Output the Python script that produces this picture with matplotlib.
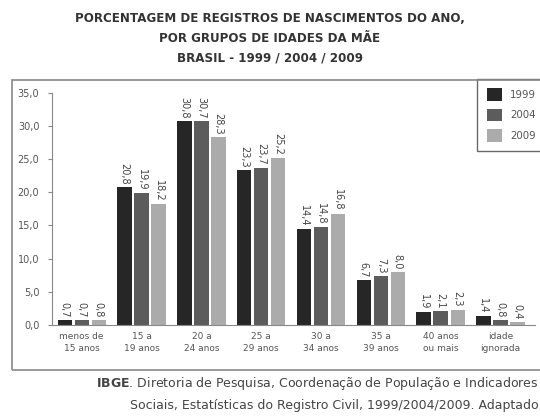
import matplotlib
matplotlib.use('Agg')
import matplotlib.pyplot as plt
from matplotlib.patches import Rectangle
import numpy as np

# Data
categories = ['menos de\n15 anos', '15 a\n19 anos', '20 a\n24 anos', '25 a\n29 anos',
              '30 a\n34 anos', '35 a\n39 anos', '40 anos\nou mais', 'idade\nignorada']
years = ['1999', '2004', '2009']
v1999 = [0.7, 20.8, 30.8, 23.3, 14.4, 6.7, 1.9, 1.4]
v2004 = [0.7, 19.9, 30.7, 23.7, 14.8, 7.3, 2.1, 0.8]
v2009 = [0.8, 18.2, 28.3, 25.2, 16.8, 8.0, 2.3, 0.4]
yticks = [0, 5, 10, 15, 20, 25, 30, 35]

colors = ['#262626', '#5c5c5c', '#ababab']
text_color = '#555555'


def fmt(v):
    return '{:.1f}'.format(v).replace('.', ',')


def main():
    fig = plt.figure(figsize=(5.40, 4.17), dpi=100)

    # outer frame around the chart (right edge runs off the picture)
    fig.patches.append(Rectangle((0.022, 0.113), 1.0, 0.695, transform=fig.transFigure,
                                 fill=False, edgecolor='#888888', linewidth=1.2))

    title = ['PORCENTAGEM DE REGISTROS DE NASCIMENTOS DO ANO,',
             'POR GRUPOS DE IDADES DA MÃE',
             'BRASIL - 1999 / 2004 / 2009']
    for i, line in enumerate(title):
        fig.text(0.5, 0.955 - i * 0.047, line, ha='center', va='center',
                 fontsize=8.6, fontweight='bold', color='#333333')

    ax = fig.add_axes([0.096, 0.221, 0.895, 0.556])
    x = np.arange(len(categories))
    w = 0.24
    off = 0.285
    series = [v1999, v2004, v2009]
    for i, (vals, yr) in enumerate(zip(series, years)):
        pos = x + (i - 1) * off
        ax.bar(pos, vals, width=w, color=colors[i], label=yr, zorder=2)
        for px, v in zip(pos, vals):
            ax.text(px, v + 0.4, fmt(v), rotation=270, ha='center', va='bottom',
                    fontsize=7, color='#444444')

    ax.set_xlim(-0.5, len(categories) - 0.42)
    ax.set_ylim(0, 35)
    ax.set_yticks(yticks)
    ax.set_yticklabels([fmt(t) for t in yticks], fontsize=7, color=text_color)
    ax.set_xticks(x)
    ax.set_xticklabels(categories, fontsize=6.5, color=text_color, linespacing=1.5)
    ax.tick_params(axis='x', length=0, pad=5)
    ax.tick_params(axis='y', length=3, color='#888888', pad=6)
    for s in ['top', 'right']:
        ax.spines[s].set_visible(False)
    ax.spines['left'].set_color('#888888')
    ax.spines['bottom'].set_color('#888888')

    leg = ax.legend(loc='upper right', bbox_to_anchor=(1.01, 0.81),
                    bbox_transform=fig.transFigure, fontsize=7.4,
                    frameon=True, fancybox=False, edgecolor='#444444',
                    handlelength=1.5, handleheight=1.5, labelspacing=0.75,
                    borderpad=0.9, handletextpad=0.8, borderaxespad=0)
    leg.get_frame().set_linewidth(1.0)
    for t in leg.get_texts():
        t.set_color(text_color)

    fig.text(0.998, 0.08, r'$\bf{IBGE}$. Diretoria de Pesquisa, Coordenação de População e Indicadores',
             ha='right', va='center', fontsize=9, color='#444444')
    fig.text(0.998, 0.028, 'Sociais, Estatísticas do Registro Civil, 1999/2004/2009. Adaptado',
             ha='right', va='center', fontsize=9, color='#444444')

    fig.savefig('out.png', dpi=100)


if __name__ == "__main__":
    main()
